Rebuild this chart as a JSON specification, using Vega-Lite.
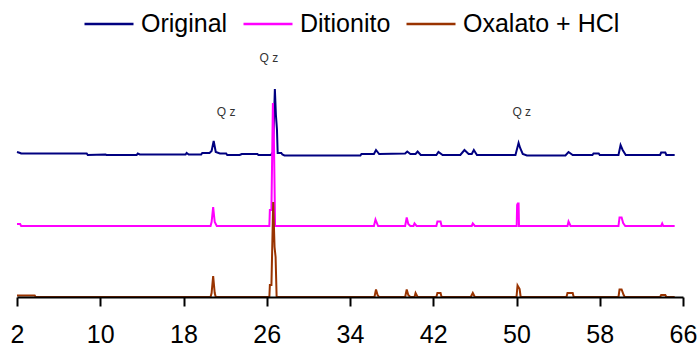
{
  "$schema": "https://vega.github.io/schema/vega-lite/v6.json",
  "autosize": {"type": "none"},
  "padding": {"left": 17, "top": 55, "right": 17, "bottom": 53},
  "width": 666,
  "height": 242,
  "background": "white",
  "config": {"view": {"stroke": null}, "font": "Liberation Sans"},
  "datasets": {
    "trace": [
      {"s":"Original","t":2,"v":145},{"s":"Original","t":2.3,"v":144},{"s":"Original","t":2.4,"v":143.5},{"s":"Original","t":8.7,"v":143.5},{"s":"Original","t":8.8,"v":142},{"s":"Original","t":10.5,"v":142.5},{"s":"Original","t":10.6,"v":142},{"s":"Original","t":13.5,"v":142},{"s":"Original","t":13.6,"v":143.5},{"s":"Original","t":13.8,"v":142.5},{"s":"Original","t":18.2,"v":142.5},{"s":"Original","t":18.3,"v":144},{"s":"Original","t":18.5,"v":142.5},{"s":"Original","t":19.7,"v":142.5},{"s":"Original","t":19.8,"v":144},{"s":"Original","t":20.5,"v":144},{"s":"Original","t":20.7,"v":146},{"s":"Original","t":20.9,"v":156},{"s":"Original","t":21.1,"v":145},{"s":"Original","t":21.5,"v":143.5},{"s":"Original","t":22.1,"v":143.5},{"s":"Original","t":22.2,"v":142},{"s":"Original","t":23.4,"v":142},{"s":"Original","t":23.6,"v":143},{"s":"Original","t":25.1,"v":143},{"s":"Original","t":25.2,"v":142},{"s":"Original","t":26.4,"v":142},{"s":"Original","t":26.6,"v":145},{"s":"Original","t":26.78,"v":208},{"s":"Original","t":26.88,"v":182},{"s":"Original","t":26.98,"v":168},{"s":"Original","t":27.05,"v":144},{"s":"Original","t":27.4,"v":144},{"s":"Original","t":27.5,"v":142.5},{"s":"Original","t":27.7,"v":141.5},{"s":"Original","t":35,"v":141.5},{"s":"Original","t":35.1,"v":143},{"s":"Original","t":36.3,"v":143},{"s":"Original","t":36.5,"v":147},{"s":"Original","t":36.8,"v":143},{"s":"Original","t":39.3,"v":143.5},{"s":"Original","t":39.5,"v":145.5},{"s":"Original","t":39.8,"v":143},{"s":"Original","t":40.3,"v":143},{"s":"Original","t":40.5,"v":145.5},{"s":"Original","t":40.8,"v":142},{"s":"Original","t":42.3,"v":142},{"s":"Original","t":42.5,"v":145},{"s":"Original","t":42.9,"v":142},{"s":"Original","t":44.6,"v":142},{"s":"Original","t":45,"v":147},{"s":"Original","t":45.4,"v":143},{"s":"Original","t":45.7,"v":143},{"s":"Original","t":45.9,"v":147},{"s":"Original","t":46.2,"v":142},{"s":"Original","t":49.9,"v":142},{"s":"Original","t":50.1,"v":150},{"s":"Original","t":50.2,"v":154},{"s":"Original","t":50.35,"v":149},{"s":"Original","t":50.6,"v":143},{"s":"Original","t":51,"v":141.5},{"s":"Original","t":54.7,"v":141.5},{"s":"Original","t":55,"v":145},{"s":"Original","t":55.4,"v":142},{"s":"Original","t":57.3,"v":142},{"s":"Original","t":57.4,"v":143.5},{"s":"Original","t":57.9,"v":143.5},{"s":"Original","t":58,"v":142},{"s":"Original","t":59.8,"v":142},{"s":"Original","t":60,"v":152},{"s":"Original","t":60.2,"v":147},{"s":"Original","t":60.5,"v":142},{"s":"Original","t":63.8,"v":142},{"s":"Original","t":63.9,"v":144.5},{"s":"Original","t":64.3,"v":144.5},{"s":"Original","t":64.4,"v":142},{"s":"Original","t":65.2,"v":142},
      {"s":"Ditionito","t":2,"v":73},{"s":"Ditionito","t":2.3,"v":73},{"s":"Ditionito","t":2.4,"v":71},{"s":"Ditionito","t":20.6,"v":71},{"s":"Ditionito","t":20.7,"v":75},{"s":"Ditionito","t":20.85,"v":90},{"s":"Ditionito","t":21.0,"v":75},{"s":"Ditionito","t":21.2,"v":71},{"s":"Ditionito","t":26.25,"v":71},{"s":"Ditionito","t":26.3,"v":87},{"s":"Ditionito","t":26.45,"v":87},{"s":"Ditionito","t":26.59,"v":194},{"s":"Ditionito","t":26.7,"v":150},{"s":"Ditionito","t":26.8,"v":71},{"s":"Ditionito","t":36.3,"v":71},{"s":"Ditionito","t":36.45,"v":77.5},{"s":"Ditionito","t":36.7,"v":71},{"s":"Ditionito","t":39.3,"v":71},{"s":"Ditionito","t":39.45,"v":79.5},{"s":"Ditionito","t":39.6,"v":73},{"s":"Ditionito","t":39.8,"v":71},{"s":"Ditionito","t":40.1,"v":71},{"s":"Ditionito","t":40.2,"v":73.5},{"s":"Ditionito","t":40.4,"v":71},{"s":"Ditionito","t":42.3,"v":71},{"s":"Ditionito","t":42.4,"v":75.5},{"s":"Ditionito","t":42.7,"v":75.5},{"s":"Ditionito","t":42.8,"v":71},{"s":"Ditionito","t":45.7,"v":71},{"s":"Ditionito","t":45.8,"v":73.5},{"s":"Ditionito","t":46,"v":71},{"s":"Ditionito","t":50.02,"v":71},{"s":"Ditionito","t":50.06,"v":92},{"s":"Ditionito","t":50.12,"v":93.5},{"s":"Ditionito","t":50.2,"v":93.5},{"s":"Ditionito","t":50.24,"v":71},{"s":"Ditionito","t":54.9,"v":71},{"s":"Ditionito","t":55.0,"v":75.5},{"s":"Ditionito","t":55.2,"v":71},{"s":"Ditionito","t":59.8,"v":71},{"s":"Ditionito","t":59.9,"v":79.5},{"s":"Ditionito","t":60.1,"v":79.5},{"s":"Ditionito","t":60.25,"v":74},{"s":"Ditionito","t":60.45,"v":71},{"s":"Ditionito","t":63.9,"v":71},{"s":"Ditionito","t":64,"v":73.5},{"s":"Ditionito","t":64.1,"v":71},{"s":"Ditionito","t":65.2,"v":71},
      {"s":"Oxalato + HCl","t":2,"v":1.5},{"s":"Oxalato + HCl","t":3.7,"v":1.5},{"s":"Oxalato + HCl","t":3.8,"v":0},{"s":"Oxalato + HCl","t":20.6,"v":0},{"s":"Oxalato + HCl","t":20.7,"v":4},{"s":"Oxalato + HCl","t":20.85,"v":21},{"s":"Oxalato + HCl","t":21.0,"v":4},{"s":"Oxalato + HCl","t":21.1,"v":0},{"s":"Oxalato + HCl","t":26.25,"v":0},{"s":"Oxalato + HCl","t":26.3,"v":12},{"s":"Oxalato + HCl","t":26.45,"v":12},{"s":"Oxalato + HCl","t":26.62,"v":95},{"s":"Oxalato + HCl","t":26.75,"v":50},{"s":"Oxalato + HCl","t":26.85,"v":40},{"s":"Oxalato + HCl","t":26.95,"v":0},{"s":"Oxalato + HCl","t":36.35,"v":0},{"s":"Oxalato + HCl","t":36.5,"v":7.5},{"s":"Oxalato + HCl","t":36.65,"v":2},{"s":"Oxalato + HCl","t":36.8,"v":0},{"s":"Oxalato + HCl","t":39.3,"v":0},{"s":"Oxalato + HCl","t":39.45,"v":7.5},{"s":"Oxalato + HCl","t":39.6,"v":2},{"s":"Oxalato + HCl","t":39.8,"v":0},{"s":"Oxalato + HCl","t":40.2,"v":0},{"s":"Oxalato + HCl","t":40.3,"v":4},{"s":"Oxalato + HCl","t":40.5,"v":0},{"s":"Oxalato + HCl","t":42.3,"v":0},{"s":"Oxalato + HCl","t":42.4,"v":4},{"s":"Oxalato + HCl","t":42.7,"v":4},{"s":"Oxalato + HCl","t":42.8,"v":0},{"s":"Oxalato + HCl","t":45.6,"v":0},{"s":"Oxalato + HCl","t":45.8,"v":4},{"s":"Oxalato + HCl","t":46,"v":0},{"s":"Oxalato + HCl","t":50.0,"v":0},{"s":"Oxalato + HCl","t":50.1,"v":11.5},{"s":"Oxalato + HCl","t":50.3,"v":8},{"s":"Oxalato + HCl","t":50.4,"v":0},{"s":"Oxalato + HCl","t":54.8,"v":0},{"s":"Oxalato + HCl","t":54.9,"v":4},{"s":"Oxalato + HCl","t":55.4,"v":4},{"s":"Oxalato + HCl","t":55.5,"v":0},{"s":"Oxalato + HCl","t":59.8,"v":0},{"s":"Oxalato + HCl","t":59.9,"v":7.5},{"s":"Oxalato + HCl","t":60.1,"v":7.5},{"s":"Oxalato + HCl","t":60.3,"v":2},{"s":"Oxalato + HCl","t":60.4,"v":0},{"s":"Oxalato + HCl","t":63.8,"v":0},{"s":"Oxalato + HCl","t":63.9,"v":2},{"s":"Oxalato + HCl","t":64.3,"v":2},{"s":"Oxalato + HCl","t":64.4,"v":0},{"s":"Oxalato + HCl","t":65.2,"v":0}
    ],
    "labels": [
      {"t": 26.2, "v": 239, "label": "Q z"},
      {"t": 22.1, "v": 185, "label": "Q z"},
      {"t": 50.5, "v": 185, "label": "Q z"}
    ]
  },
  "layer": [
    {
      "data": {"name": "trace"},
      "mark": {"type": "line", "strokeWidth": 2, "interpolate": "linear"},
      "encoding": {
        "x": {
          "field": "t", "type": "quantitative",
          "scale": {"domain": [2, 66], "nice": false, "zero": false},
          "axis": {
            "values": [2, 10, 18, 26, 34, 42, 50, 58, 66],
            "title": null, "grid": false, "zindex": 1,
            "domainColor": "black", "domainWidth": 2,
            "tickColor": "black", "tickWidth": 2, "tickSize": 9,
            "labelFont": "Liberation Sans", "labelFontSize": 25, "labelColor": "black",
            "labelPadding": 16, "labelFlush": false, "labelOverlap": false
          }
        },
        "y": {
          "field": "v", "type": "quantitative",
          "scale": {"domain": [0, 242], "nice": false, "zero": false},
          "axis": null
        },
        "color": {
          "field": "s", "type": "nominal",
          "scale": {"domain": ["Original", "Ditionito", "Oxalato + HCl"], "range": ["#000080", "#FF00FF", "#993300"]},
          "legend": {
            "title": null, "orient": "none", "direction": "horizontal",
            "legendX": 66, "legendY": -57,
            "symbolType": "stroke", "symbolSize": 2401, "symbolStrokeWidth": 2.5,
            "labelFont": "Liberation Sans", "labelFontSize": 25, "labelColor": "black",
            "labelOffset": 6, "columnPadding": 10, "labelLimit": 400
          }
        }
      }
    },
    {
      "data": {"name": "labels"},
      "mark": {"type": "text", "fontSize": 12, "font": "Liberation Sans", "color": "#333333", "align": "center", "baseline": "middle"},
      "encoding": {
        "x": {"field": "t", "type": "quantitative"},
        "y": {"field": "v", "type": "quantitative"},
        "text": {"field": "label"}
      }
    }
  ]
}
